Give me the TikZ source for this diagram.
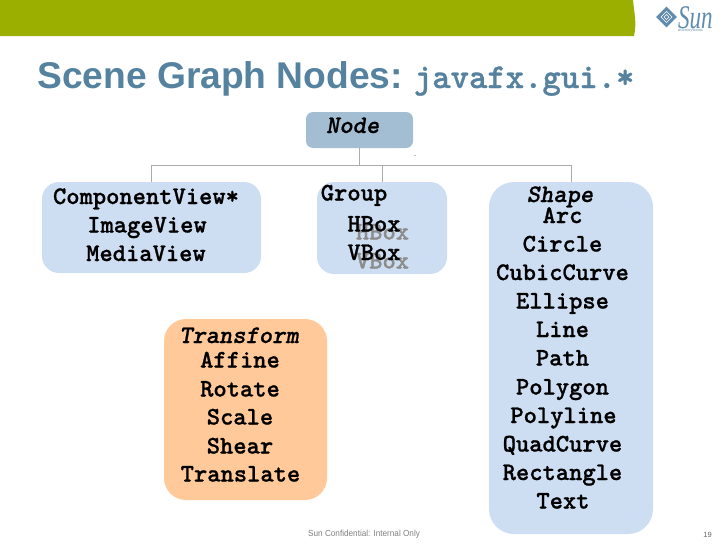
\documentclass[tikz,border=0pt]{standalone}
\usepackage{fontspec}
\usetikzlibrary{shapes.geometric}
\setmainfont{Liberation Sans}
\newfontfamily\logofont{Liberation Serif}
\newfontfamily\itemfont{lmmonolt10-bold}[Extension=.otf,FakeBold=0.9]
\newfontfamily\headfont{lmmonolt10-boldoblique}[Extension=.otf,FakeBold=0.7]
\definecolor{barcol}{HTML}{9AAF00}
\definecolor{titlecol}{HTML}{55829F}
\definecolor{rootcol}{HTML}{A3BED3}
\definecolor{boxcol}{HTML}{CDDDF2}
\definecolor{orangecol}{HTML}{FFC999}
\definecolor{linecol}{HTML}{ABABAB}
\definecolor{logocol}{HTML}{5F8CAE}
\tikzset{
    blockbox/.style={fill=boxcol,rounded corners=17pt,inner sep=0pt},
    itemtext/.style={font=\itemfont\fontsize{25.3}{28}\selectfont,text=black,inner sep=0pt,anchor=base},
    headtext/.style={itemtext,font=\headfont\fontsize{25.3}{28}\selectfont},
    ghosttext/.style={itemtext,text=black!45},
    busline/.style={draw=linecol,line width=1pt},
}
\begin{document}
\begin{tikzpicture}[x=1pt,y=-1pt]
    \useasboundingbox (0,0) rectangle (728,546);
    % top bar and logo
    \fill [barcol] (0,0)--(633,0) .. controls (634,12) and (637,22) .. (634,36)--(0,36)--cycle;
    \node [fill=logocol,diamond,minimum width=21pt,minimum height=21pt,inner sep=0pt] (logomark) at (666.5,17) {};
    \draw [white,line width=0.5pt] (661,17)--(666.5,11.5)--(672,17)--(666.5,22.5)--cycle;
    \draw [white,line width=0.5pt] (664,17)--(666.5,14.5)--(669,17)--(666.5,19.5)--cycle;
    \node [font=\logofont\itshape\fontsize{33}{33}\selectfont,text=logocol,inner sep=0pt,anchor=west,xscale=0.7] (logoname) at (678,18) {Sun};
    \node [font=\logofont\fontsize{4.5}{6}\selectfont,text=logocol,inner sep=0pt,anchor=west] (logosub) at (678,30.5) {microsystems};
    % title
    \node [anchor=base west,inner sep=0pt,text=titlecol] (title) at (37,88) {\fontsize{37.2}{40}\selectfont\bfseries Scene Graph Nodes: \hspace{-3pt}\itemfont\fontsize{35}{40}\selectfont javafx.gui.*};
    % boxes
    \node [blockbox,fill=rootcol,rounded corners=7pt,minimum width=107pt,minimum height=36pt] (rootbox) at (359.5,130) {};
    \node [blockbox,minimum width=219pt,minimum height=91pt] (viewbox) at (151.5,227.5) {};
    \node [blockbox,minimum width=130pt,minimum height=92pt] (groupbox) at (382,228) {};
    \node [blockbox,rounded corners=25pt,minimum width=164pt,minimum height=352pt] (shapebox) at (571,358) {};
    \node [blockbox,fill=orangecol,rounded corners=22pt,minimum width=163pt,minimum height=181pt] (transformbox) at (245.5,409.5) {};
    % connectors
    \coordinate (busleft) at (151.5,165);
    \coordinate (busright) at (571,165);
    \draw [busline] (rootbox.south)--(rootbox.south |- busleft);
    \draw [busline] (busleft)--(busright);
    \draw [busline] (busleft)--(viewbox.north);
    \draw [busline] (groupbox.north |- busleft)--(groupbox.north);
    \draw [busline] (busright)--(shapebox.north);
    \node [font=\fontsize{7}{7}\selectfont,inner sep=0pt] (straydot) at (415,156) {.};
    % labels
    \node [headtext] (nodehead) at (352.7,133) {Node};
    \node [itemtext] (componentview) at (146,204) {ComponentView*};
    \node [itemtext] (imageview) at (147,232.5) {ImageView};
    \node [itemtext] (mediaview) at (146,261) {MediaView};
    \node [itemtext] (grouphead) at (354,200.5) {Group};
    \node [ghosttext] (hboxghost) at (382.5,239.5) {HBox};
    \node [ghosttext] (vboxghost) at (382.5,268.5) {VBox};
    \node [itemtext] (hbox) at (374,231.5) {HBox};
    \node [itemtext] (vbox) at (374,260) {VBox};
    \node [headtext] (shapehead) at (560,202) {Shape};
    \node [itemtext] (arc) at (562.5,223) {Arc};
    \node [itemtext] (circle) at (562.5,251.5) {Circle};
    \node [itemtext] (cubiccurve) at (562.5,280) {CubicCurve};
    \node [itemtext] (ellipse) at (562.5,308.5) {Ellipse};
    \node [itemtext] (line) at (562.5,337) {Line};
    \node [itemtext] (pathitem) at (562.5,365.5) {Path};
    \node [itemtext] (polygon) at (562.5,394.5) {Polygon};
    \node [itemtext] (polyline) at (563.5,423) {Polyline};
    \node [itemtext] (quadcurve) at (562.5,451.5) {QuadCurve};
    \node [itemtext] (rectangleitem) at (562.5,480) {Rectangle};
    \node [itemtext] (textitem) at (563,508.5) {Text};
    \node [headtext] (transformhead) at (239,343) {Transform};
    \node [itemtext] (affine) at (240,367.5) {Affine};
    \node [itemtext] (rotate) at (240,396.5) {Rotate};
    \node [itemtext] (scaleitem) at (240,424.5) {Scale};
    \node [itemtext] (shear) at (240,453.5) {Shear};
    \node [itemtext] (translate) at (240.5,481.5) {Translate};
    % footer
    \node [font=\fontsize{8.8}{12}\selectfont,text=black!50,inner sep=0pt,anchor=west,xscale=0.93] (footer) at (308,534.5) {Sun Confidential: Internal Only};
    \node [font=\fontsize{7.5}{10}\selectfont,text=black!60,inner sep=0pt] (pagenum) at (707.5,534.5) {19};
\end{tikzpicture}
\end{document}
